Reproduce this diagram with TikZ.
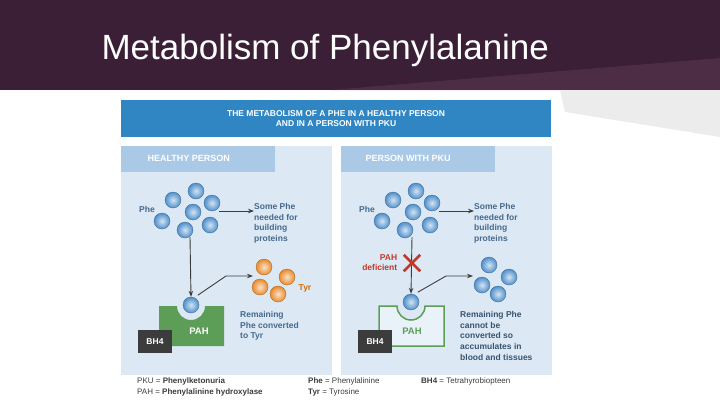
\documentclass[tikz,border=0pt]{standalone}
\usepackage{fontspec}
\setmainfont{Liberation Sans}
\usetikzlibrary{positioning,arrows.meta,shapes.misc}
\definecolor{hdark}{HTML}{3A1F36}
\definecolor{hlight}{HTML}{5A3552}
\definecolor{barblue}{HTML}{2F86C3}
\definecolor{panel}{HTML}{DCE9F5}
\definecolor{tabblue}{HTML}{A9C9E7}
\definecolor{pahgreen}{HTML}{5C9E58}
\definecolor{txtblue}{HTML}{46698C}
\definecolor{bhgray}{HTML}{3C3C3C}
\definecolor{pkured}{HTML}{C0392B}
\definecolor{ballblue}{HTML}{4F8FCB}
\definecolor{ballorange}{HTML}{E98A2A}
\begin{document}
\begin{tikzpicture}[x=1pt,y=-1pt]
  \tikzset{
    Ball/.style   = {circle, minimum size=16pt, inner sep=0pt, inner color=#1!25!white, outer color=#1, draw=#1!70!black, line width=0.3pt},
    Ball/.default = ballblue,
    TabText/.style= {text=white, font=\bfseries\fontsize{9}{10}\selectfont, anchor=west},
    Lbl/.style    = {text=txtblue, font=\bfseries\fontsize{8.5}{10.7}\selectfont, align=left, anchor=north west, inner sep=0pt},
    Legend/.style = {text=bhgray, font=\fontsize{8}{11}\selectfont, align=left, anchor=north west, inner sep=0pt},
    Arr/.style    = {-{Stealth[length=6pt]}, bhgray, line width=0.9pt},
    BHbox/.style  = {fill=bhgray, text=white, font=\bfseries\fontsize{8.5}{9}\selectfont, minimum width=34pt, minimum height=23pt, inner sep=0pt}
  }
  \useasboundingbox (0,0) rectangle (720,405);
  % header band
  \fill[hdark] (0,0) rectangle (720,90);
  \fill[hlight, opacity=0.6] (330,90) -- (720,58) -- (720,90) -- cycle;
  \fill[gray!15] (560,90) -- (720,90) -- (720,137) -- (565,112) -- cycle;
  \node[text=white, font=\fontsize{35}{38}\selectfont, anchor=west] (title) at (98,50) {Metabolism of Phenylalanine};
  % blue bar
  \fill[barblue] (121,100) rectangle (551,137);
  \node[text=white, font=\bfseries\fontsize{8.5}{10.5}\selectfont, align=center] (bar) at (336,118.5) {THE METABOLISM OF A PHE IN A HEALTHY PERSON\\AND IN A PERSON WITH PKU};
  % panels
  \foreach \o in {0,220} {
    \fill[panel] (121+\o,146) rectangle (332+\o,375);
    \fill[tabblue] (121+\o,146) rectangle (275+\o,172);
  }
  \node[TabText] (tabL) at (144,158) {HEALTHY PERSON};
  \node[TabText] (tabR) at (362,158) {PERSON WITH PKU};

  % ---------- healthy person ----------
  \foreach \n/\x/\y in {a/196/191, b/173/200, c/212/203, d/193/212, e/162/221, f/185/230, g/210/225}
    \node[Ball] (L\n) at (\x,\y) {};
  \node[text=txtblue, font=\bfseries\fontsize{8.5}{9}\selectfont] (pheL) at (147,209) {Phe};
  \coordinate (sL) at (219,211);
  \node[Lbl] (someL) at (254,203) {Some Phe\\needed for\\building\\proteins};
  \draw[Arr] (sL) -- (someL.west |- sL);
  % PAH block
  \fill[pahgreen] (159,306) -- (177,306) arc[start angle=180, end angle=0, radius=14] -- (224,306) -- (224,346) -- (159,346) -- cycle;
  \node[Ball] (enzL) at (191,305) {};
  \node[BHbox] (bhL) at (155,341.5) {BH4};
  \node[text=white, font=\bfseries\fontsize{9.5}{10}\selectfont] (pahL) at (199,331) {PAH};
  \draw[Arr] (190,237) -- (enzL.north);
  \coordinate (kL) at (226,276);
  \draw[Arr] (enzL.north east) ++(1,-4) -- (kL) -- (253,276);
  \foreach \n/\x/\y in {a/264/267, b/287/277, c/260/287, d/278/294}
    \node[Ball=ballorange] (T\n) at (\x,\y) {};
  \node[text=orange!85!black, font=\bfseries\fontsize{8.5}{9}\selectfont] (tyr) at (305,288) {Tyr};
  \node[Lbl] (remL) at (240,311) {Remaining\\Phe converted\\to Tyr};

  % ---------- person with PKU ----------
  \foreach \n/\x/\y in {a/196/191, b/173/200, c/212/203, d/193/212, e/162/221, f/185/230, g/210/225}
    \node[Ball] (R\n) at (\x+220,\y) {};
  \node[text=txtblue, font=\bfseries\fontsize{8.5}{9}\selectfont] (pheR) at (367,209) {Phe};
  \coordinate (sR) at (439,211);
  \node[Lbl] (someR) at (474,203) {Some Phe\\needed for\\building\\proteins};
  \draw[Arr] (sR) -- (someR.west |- sR);
  \draw[pahgreen, fill=panel!60!white, line width=1.5pt] (379,306) -- (397,306) arc[start angle=180, end angle=0, radius=14] -- (444,306) -- (444,346) -- (379,346) -- cycle;
  \node[Ball] (enzR) at (411,302) {};
  \node[BHbox] (bhR) at (375,341.5) {BH4};
  \node[text=pahgreen, font=\bfseries\fontsize{9.5}{10}\selectfont] (pahR) at (412,331) {PAH};
  \draw[Arr] (412,237) -- (enzR.north);
  \node[cross out, draw=pkured, line width=2.5pt, minimum size=14pt, inner sep=0pt] (xR) at (412,263) {};
  \node[text=pkured, font=\bfseries\fontsize{8.5}{10}\selectfont, align=right, left=3pt of xR] (defR) {PAH\\deficient};
  \coordinate (kR) at (446,276);
  \draw[Arr] (enzR.north east) ++(1,-4) -- (kR) -- (473,276);
  \foreach \n/\x/\y in {a/489/265, b/509/277, c/482/285, d/498/294}
    \node[Ball] (A\n) at (\x,\y) {};
  \node[Lbl, text=txtblue!80!black] (remR) at (460,311) {Remaining Phe\\cannot be\\converted so\\accumulates in\\blood and tissues};

  % legend
  \node[Legend] (lg1) at (137,377) {PKU = \textbf{Phenylketonuria}\\PAH = \textbf{Phenylalinine hydroxylase}};
  \node[Legend] (lg2) at (308,377) {\textbf{Phe} = Phenylalinine\\\textbf{Tyr} = Tyrosine};
  \node[Legend] (lg3) at (421,377) {\textbf{BH4} = Tetrahyrobiopteen};
\end{tikzpicture}
\end{document}
